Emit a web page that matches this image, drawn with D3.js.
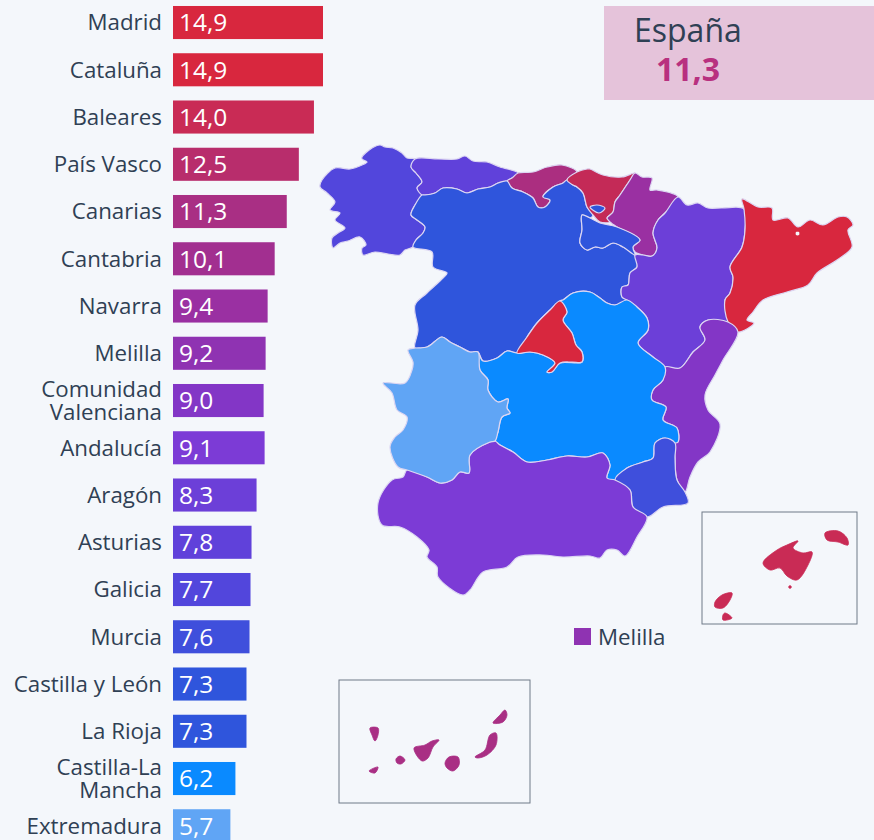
<!DOCTYPE html>
<html lang="es"><head><meta charset="utf-8">
<script src="https://cdn.jsdelivr.net/npm/d3@7"></script>
<style>
html,body{margin:0;padding:0;background:#f4f7fb;overflow:hidden}
svg{display:block;font-family:"Open Sans",sans-serif}
</style></head><body>
<svg id="c" width="874" height="840"></svg>
<script>
const categories=["Madrid","Cataluña","Baleares","País Vasco","Canarias","Cantabria","Navarra","Melilla","Comunidad\nValenciana","Andalucía","Aragón","Asturias","Galicia","Murcia","Castilla y León","La Rioja","Castilla-La\nMancha","Extremadura"];
const values=[14.9,14.9,14.0,12.5,11.3,10.1,9.4,9.2,9.0,9.1,8.3,7.8,7.7,7.6,7.3,7.3,6.2,5.7];
const barColors=["#d8273e","#d8273e","#c92b55","#b82d6c","#a92f84","#a22f90","#9a30a2","#8f33b2","#8336c6","#7c3bd6","#6c3fd8","#6041da","#5246dc","#3f4fdc","#2f55dc","#2f55dc","#0a8aff","#60a5f5"];
const mapColorOverrides={"País Vasco":"#c42a57","Cantabria":"#ab2e80"};
const nationalName="España", nationalValue=11.3, legendName="Melilla";

// Region outlines in map units
const outlineGalicia=[[362,157],[372,148],[380,145],[385,147],[393,148],[402,153],[407,158],[415,159],[411,167],[416,173],[422,182],[417,188],[422,195],[415,205],[411,215],[417,220],[425,227],[423,233],[416,240],[413,247],[405,250],[400,255],[388,254],[375,252],[363,255],[362,248],[366,245],[360,237],[348,241],[340,243],[333,248],[332,238],[338,233],[345,228],[335,220],[340,213],[330,210],[335,202],[327,193],[320,187],[322,180],[335,168],[350,169],[362,165],[367,162],[362,159]];
const outlineAsturias=[[415,159],[438,159],[457,159],[465,156],[473,161],[487,162],[500,167],[518,173],[512,178],[507,181],[498,183],[490,187],[478,189],[467,193],[457,189],[443,188],[435,193],[425,195],[422,195],[417,188],[422,182],[416,173],[411,167]];
const outlineCantabria=[[507,181],[512,178],[518,173],[533,172],[547,167],[562,165],[577,172],[567,180],[563,183],[553,187],[543,197],[550,200],[545,207],[538,207],[533,198],[523,192],[512,188]];
const outlinePaisVasco=[[577,172],[587,169],[590,169],[603,175],[622,177],[635,173],[630,180],[620,195],[615,202],[613,212],[607,218],[610,222],[600,222],[593,215],[587,207],[583,193],[577,187],[573,185],[567,180]];
const outlineTrevino=[[590,207],[597,205],[605,208],[599,213]];
const outlineNavarra=[[635,173],[642,177],[652,178],[650,190],[657,190],[678,197],[665,213],[658,220],[653,233],[657,248],[652,256],[643,255],[635,252],[633,247],[640,240],[617,227],[610,222],[607,218],[613,212],[615,202],[620,195],[630,180]];
const outlineRioja=[[582,215],[590,218],[600,223],[617,227],[640,240],[633,247],[635,255],[623,247],[613,243],[603,248],[595,247],[587,250],[580,243],[582,230]];
const outlineCyL=[[422,195],[425,195],[435,193],[443,188],[457,189],[467,193],[478,189],[490,187],[498,183],[507,181],[512,188],[523,192],[533,198],[538,207],[545,207],[550,200],[543,197],[553,187],[563,183],[567,180],[573,185],[577,187],[583,193],[587,207],[593,215],[590,218],[582,215],[582,230],[580,243],[587,250],[595,247],[603,248],[613,243],[623,247],[635,255],[637,267],[630,273],[628,285],[622,287],[622,297],[627,300],[615,305],[607,303],[600,298],[590,292],[573,293],[563,300],[560,301],[550,310],[537,323],[527,337],[517,353],[507,351],[497,358],[483,361],[478,352],[470,352],[460,347],[450,342],[442,337],[427,347],[415,348],[418,330],[415,305],[427,293],[443,278],[447,273],[433,267],[432,252],[413,247],[416,240],[423,233],[425,227],[417,220],[411,215],[415,205]];
const outlineAragon=[[678,197],[687,205],[698,203],[708,208],[722,208],[744,209],[745,230],[742,247],[730,267],[733,277],[730,293],[725,300],[728,322],[708,320],[700,327],[705,340],[693,352],[680,368],[665,367],[653,357],[638,343],[648,330],[647,318],[637,307],[627,300],[622,297],[622,287],[628,285],[630,273],[637,267],[635,255],[643,255],[652,256],[657,248],[653,233],[658,220],[665,213]];
const outlineCataluna=[[742,199],[758,207],[772,208],[773,220],[788,218],[798,227],[810,220],[823,225],[838,217],[847,217],[853,225],[848,230],[852,247],[837,260],[817,273],[808,285],[787,292],[763,300],[753,312],[747,320],[754,323],[738,332],[728,322],[725,300],[730,293],[733,277],[730,267],[742,247],[745,230],[744,209]];
const outlineLlivia=[[796,232],[799,232],[799,235],[796,235]];
const outlineValencia=[[728,322],[738,332],[723,360],[715,375],[705,395],[708,410],[720,424],[710,452],[698,462],[690,477],[685,492],[677,480],[675,458],[675,443],[678,442],[677,428],[663,420],[666,407],[652,400],[653,390],[663,380],[665,367],[680,368],[693,352],[705,340],[700,327],[708,320]];
const outlineMurcia=[[675,443],[665,438],[655,443],[653,458],[643,462],[627,468],[615,480],[630,490],[633,507],[647,517],[663,507],[688,503],[685,492],[677,480],[675,458]];
const outlineAndalucia=[[490,442],[470,455],[469,473],[460,472],[452,480],[440,483],[427,477],[407,470],[403,477],[392,480],[378,503],[382,525],[400,527],[417,537],[429,550],[427,557],[437,567],[438,577],[463,595],[470,590],[483,572],[507,567],[518,557],[543,555],[563,557],[590,556],[600,558],[607,550],[617,550],[625,556],[637,537],[647,517],[633,507],[630,490],[615,480],[607,478],[610,465],[603,453],[587,457],[567,456],[547,460],[527,462],[513,452],[500,445],[495,441]];
const outlineExtremadura=[[442,337],[450,342],[460,347],[470,352],[478,352],[480,370],[488,380],[488,390],[498,402],[508,399],[507,408],[510,413],[502,417],[498,432],[495,441],[490,442],[470,455],[469,473],[460,472],[452,480],[440,483],[427,477],[407,470],[398,467],[390,447],[395,437],[403,430],[407,417],[397,410],[392,393],[383,383],[405,383],[412,370],[413,362],[408,350],[415,348],[427,347]];
const outlineCLM=[[478,352],[483,361],[497,358],[507,351],[517,353],[530,352],[543,355],[555,363],[547,372],[552,372],[560,363],[582,362],[582,352],[576,345],[572,333],[563,320],[567,312],[560,301],[563,300],[573,293],[590,292],[600,298],[607,303],[615,305],[627,300],[637,307],[647,318],[648,330],[638,343],[653,357],[665,367],[663,380],[653,390],[652,400],[666,407],[663,420],[677,428],[678,442],[675,443],[665,438],[655,443],[653,458],[643,462],[627,468],[615,480],[607,478],[610,465],[603,453],[587,457],[567,456],[547,460],[527,462],[513,452],[500,445],[495,441],[498,432],[502,417],[510,413],[507,408],[508,399],[498,402],[488,390],[488,380],[480,370]];
const outlineMadrid=[[560,301],[567,312],[563,320],[572,333],[576,345],[582,352],[582,362],[572,362],[560,363],[552,372],[547,372],[555,363],[543,355],[530,352],[517,353],[527,337],[537,323],[550,310]];
const islandsBaleares=[
 [[763,563],[777,550],[787,545],[798,541],[793,548],[803,553],[812,552],[808,565],[797,580],[787,576],[780,568],[770,570]],
 [[825,533],[838,531],[847,538],[848,545],[838,542],[827,540]],
 [[789,586],[791,586],[791,588],[789,588]],
 [[715,602],[722,595],[732,593],[730,600],[723,608],[715,607]],
 [[723,615],[725,613],[732,618],[723,620]]];
const islandsCanarias=[
 [[370,728],[378,728],[378,735],[375,741],[372,735]],
 [[369,771],[378,767],[375,773]],
 [[396,759],[400,756],[405,760],[401,764],[397,763]],
 [[414,748],[425,745],[432,741],[439,740],[433,747],[428,758],[422,761]],
 [[445,763],[449,757],[458,757],[459,765],[453,771],[447,768]],
 [[475,757],[485,750],[490,735],[496,733],[496,745],[487,755],[478,758]],
 [[493,723],[500,715],[505,710],[507,715],[503,722]]];
const insetFrames=[[[702,512],[857,624]],[[339,680],[530,803]]];

const regionList=[
 ["Galicia",outlineGalicia],["Asturias",outlineAsturias],["Cantabria",outlineCantabria],
 ["Castilla y León",outlineCyL],["País Vasco",outlinePaisVasco],["Castilla y León",outlineTrevino],
 ["Navarra",outlineNavarra],["La Rioja",outlineRioja],["Aragón",outlineAragon],
 ["Cataluña",outlineCataluna],["Comunidad\nValenciana",outlineValencia],["Castilla-La\nMancha",outlineCLM],
 ["Murcia",outlineMurcia],["Andalucía",outlineAndalucia],["Extremadura",outlineExtremadura],["Madrid",outlineMadrid]];

const svg=d3.select("#c");
const ink="#2f4054", paper="#f4f7fb";
const color=d3.scaleOrdinal(categories,barColors);
const mapColor=k=>mapColorOverrides[k]||color(k);
const x=d3.scaleLinear([0,14.9],[173,323]);
const y=d3.scaleBand(categories,[-1.1,849.4]).paddingInner(.3).paddingOuter(.15);
const fmt=v=>d3.format(".1f")(v).replace(".",",");

// Map
const mapX=d3.scaleLinear([0,874],[0,874]), mapY=d3.scaleLinear([0,840],[0,840]);
const outline=d3.line().x(p=>mapX(p[0])).y(p=>mapY(p[1])).curve(d3.curveCatmullRomClosed.alpha(.5));
const map=svg.append("g");
map.selectAll("path.region").data(regionList).join("path").attr("class","region")
 .attr("d",d=>outline(d[1])).attr("fill",d=>mapColor(d[0]))
 .attr("stroke","#dcd6f2").attr("stroke-width",1.2).attr("stroke-linejoin","round");
map.append("path").attr("d",outline(outlineLlivia)).attr("fill",paper);
const isles=[...islandsBaleares.map(r=>["Baleares",r]),...islandsCanarias.map(r=>["Canarias",r])];
map.selectAll("path.isl").data(isles).join("path").attr("class","isl")
 .attr("d",d=>outline(d[1])).attr("fill",d=>color(d[0])).attr("stroke",d=>color(d[0])).attr("stroke-width",.8).attr("stroke-linejoin","round");
map.selectAll("rect.frame").data(insetFrames).join("rect").attr("class","frame")
 .attr("x",d=>mapX(d[0][0])).attr("y",d=>mapY(d[0][1]))
 .attr("width",d=>mapX(d[1][0])-mapX(d[0][0])).attr("height",d=>mapY(d[1][1])-mapY(d[0][1]))
 .attr("fill","none").attr("stroke","#6f7a88").attr("stroke-width",1);

// Legend
svg.append("rect").attr("x",574).attr("y",628).attr("width",17).attr("height",17).attr("fill",color(legendName));
svg.append("text").attr("x",598).attr("y",645).attr("font-size",22.3).attr("fill",ink).text(legendName);

// Bars
svg.selectAll("rect.bar").data(categories).join("rect").attr("class","bar")
 .attr("x",x(0)).attr("y",d=>y(d)).attr("height",y.bandwidth())
 .attr("width",(d,i)=>x(values[i])-x(0)).attr("fill",d=>color(d));
svg.selectAll("text.val").data(categories).join("text").attr("class","val")
 .attr("x",x(0)+6).attr("y",d=>y(d)+y.bandwidth()/2).attr("dy","0.36em")
 .attr("font-size",24.5).attr("fill","#fff").text((d,i)=>fmt(values[i]));

// Category axis
const axis=svg.append("g").attr("transform",`translate(${x(0)},0)`)
 .call(d3.axisLeft(y).tickSize(0).tickPadding(11));
axis.select(".domain").remove();
axis.selectAll("text").attr("font-family","'Open Sans',sans-serif").attr("font-size",22.3).attr("fill",ink)
 .each(function(d){
   const parts=d.split("\n"), t=d3.select(this).text(null).attr("dy",null);
   parts.forEach((p,i)=>t.append("tspan").attr("x",-11)
     .attr("dy",i?"1.03em":(0.35-(parts.length-1)*0.515)+"em").text(p));
 });

// National box
svg.append("rect").attr("x",604).attr("y",6).attr("width",270).attr("height",94).attr("fill","#e5c3da");
svg.append("text").attr("x",634).attr("y",42).attr("font-size",32).attr("fill",ink).text(nationalName);
svg.append("text").attr("x",656).attr("y",81).attr("font-size",32).attr("font-weight",700).attr("fill","#b8307f").text(fmt(nationalValue));
</script></body></html>
